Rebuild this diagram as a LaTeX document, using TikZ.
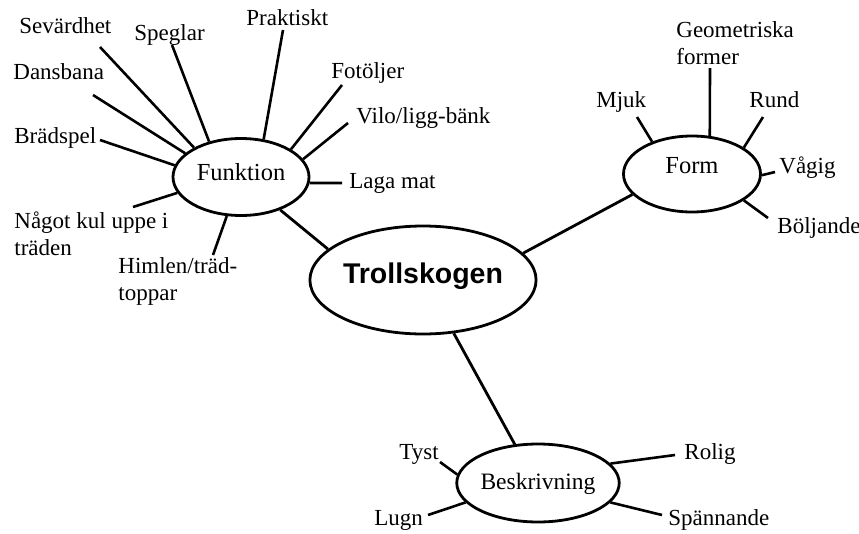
\documentclass[tikz,border=0pt]{standalone}
\usepackage{fontspec}
\setmainfont{Liberation Serif}
\setsansfont{Liberation Sans}
\usetikzlibrary{shapes.geometric}
\begin{document}
\begin{tikzpicture}[x=1pt,y=-1pt,line width=2.8pt,
  bubble/.style={draw,ellipse,inner sep=0pt,font=\fontsize{24.5}{28}\selectfont},
  lbl/.style={inner sep=0pt,anchor=base west,font=\fontsize{23}{27}\selectfont},
  lbltwo/.style={lbl,anchor=north west,align=left},
  spoke/.style={line width=2.6pt}]
  \useasboundingbox (0,0) rectangle (859,533);
  %Centre
  \node[bubble,minimum width=224pt,minimum height=108pt,text height=20pt,text depth=14pt,
    font=\sffamily\bfseries\fontsize{28.5}{32}\selectfont] (troll) at (423,280) {Trollskogen};
  \node[bubble,minimum width=136pt,minimum height=77pt,text height=10pt,text depth=3pt] (funk) at (241,177) {Funktion};
  \node[bubble,minimum width=137pt,minimum height=76pt,text height=8pt,text depth=10pt] (form) at (692,174) {Form};
  \node[bubble,minimum width=127pt,minimum height=78pt,text height=16pt,text depth=4pt,
    font=\fontsize{23.5}{27}\selectfont] (besk) at (538,483) {Beskrivning};
  \draw (funk.-40) -- (troll.162.5);
  \draw (form.199) -- (troll.15);
  \draw (besk.121) -- (troll.-60.5);
  %Funktion
  \coordinate (sevend) at (100,47);
  \coordinate (speend) at (172,45);
  \coordinate (praend) at (283,30);
  \coordinate (danend) at (93,95);
  \coordinate (braend) at (100,140);
  \coordinate (fotend) at (342,85);
  \coordinate (vilend) at (348,123);
  \coordinate (lagend) at (342,183);
  \coordinate (nagend) at (133,207);
  \coordinate (himend) at (213,255);
  \node[lbl] (sev) at (18,33) {Sevärdhet};
  \node[lbl] (spe) at (133,40) {Speglar};
  \node[lbl] (pra) at (245,25) {Praktiskt};
  \node[lbl] (dan) at (12,79) {Dansbana};
  \node[lbl] (bra) at (13,143) {Brädspel};
  \node[lbl] (fot) at (330,78) {Fotöljer};
  \node[lbl] (vil) at (355,123) {Vilo/ligg-bänk};
  \node[lbl] (lag) at (348,188) {Laga mat};
  \node[lbltwo] (nag) at (13,210) {Något kul uppe i\\träden};
  \node[lbltwo] (him) at (117,256) {Himlen/träd-\\toppar};
  \draw[spoke] (funk.148) -- (sevend);
  \draw[spoke] (funk.132.6) -- (speend);
  \draw[spoke] (funk.59) -- (praend);
  \draw[spoke] (funk.157.9) -- (danend);
  \draw[spoke] (funk.170) -- (braend);
  \draw[spoke] (funk.29.5) -- (fotend);
  \draw[spoke] (funk.16) -- (vilend);
  \draw[spoke] (funk.-5) -- (lagend);
  \draw[spoke] (funk.194) -- (nagend);
  \draw[spoke] (funk.250.7) -- (himend);
  %Form
  \coordinate (mjuend) at (637,117);
  \coordinate (geoend) at (710,68);
  \coordinate (runend) at (763,117);
  \coordinate (vagend) at (775,172);
  \coordinate (bolend) at (768,218);
  \node[lbl] (mju) at (595,107) {Mjuk};
  \node[lbltwo] (geo) at (675,20) {Geometriska\\former};
  \node[lbl] (run) at (748,107) {Rund};
  \node[lbl] (vag) at (778,173) {Vågig};
  \node[lbl] (bol) at (776,233) {Böljande};
  \draw[spoke] (form.141.3) -- (mjuend);
  \draw[spoke] (form.65.2) -- (geoend);
  \draw[spoke] (form.27) -- (runend);
  \draw[spoke] (form.-1) -- (vagend);
  \draw[spoke] (form.-27) -- (bolend);
  %Beskrivning
  \coordinate (tysend) at (440,462);
  \coordinate (lugend) at (428,515);
  \coordinate (rolend) at (675,455);
  \coordinate (spaend) at (662,515);
  \node[lbl] (tys) at (398,459) {Tyst};
  \node[lbl] (lug) at (373,525) {Lugn};
  \node[lbl] (rol) at (683,459) {Rolig};
  \node[lbl] (spa) at (667,525) {Spännande};
  \draw[spoke] (besk.174) -- (tysend);
  \draw[spoke] (besk.195.6) -- (lugend);
  \draw[spoke] (besk.15.8) -- (rolend);
  \draw[spoke] (besk.-15.8) -- (spaend);
\end{tikzpicture}
\end{document}
